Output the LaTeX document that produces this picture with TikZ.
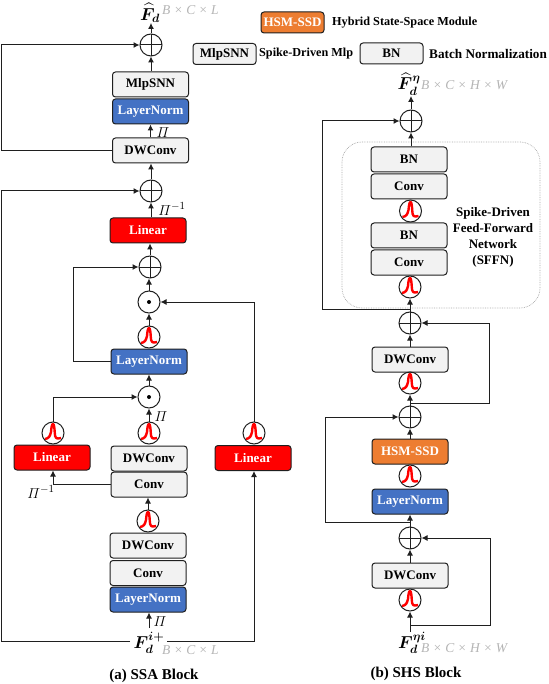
\documentclass[tikz,border=0pt]{standalone}
\usepackage{fontspec}
\usepackage{amsmath}
\usepackage{bm}
\setmainfont{Liberation Serif}
\usetikzlibrary{arrows.meta}
\definecolor{ink}{HTML}{1F1F1F}
\definecolor{boxgray}{HTML}{F2F2F2}
\definecolor{normblue}{HTML}{4472C4}
\definecolor{hsmorange}{HTML}{ED7D31}
\definecolor{dimgray}{HTML}{B4B4B4}
\definecolor{dashgray}{HTML}{A6A6A6}
\tikzset{
  blk/.style      = {draw=ink, line width=1pt, rounded corners=3pt, minimum width=76pt, minimum height=25pt, inner sep=0pt,
                     font=\fontsize{13}{15}\selectfont\bfseries},
  grayblk/.style  = {blk, fill=boxgray, text=black},
  normblk/.style  = {blk, fill=normblue, text=white},
  linblk/.style   = {blk, fill=red, text=white},
  hsmblk/.style   = {blk, fill=hsmorange, text=white},
  legblk/.style   = {minimum width=63pt, minimum height=21pt},
  plusop/.style   = {circle, draw=ink, line width=1pt, minimum size=22pt, inner sep=0pt,
                     path picture={\draw[ink, line width=1pt] (path picture bounding box.north) -- (path picture bounding box.south)
                       (path picture bounding box.west) -- (path picture bounding box.east);}},
  dotop/.style    = {circle, draw=ink, line width=1pt, minimum size=22pt, inner sep=0pt,
                     path picture={\fill[black] (path picture bounding box.center) circle (2pt);}},
  spikeop/.style  = {circle, draw=ink, line width=1pt, minimum size=22pt, inner sep=0pt,
                     path picture={\draw[red, line width=2.4pt, line join=round, shift={(path picture bounding box.center)}]
                       (-8,6) .. controls (-4,5.5) and (-3,3) .. (-2,-1) .. controls (-1.6,-6) and (-1,-9) .. (0,-9)
                       .. controls (1,-9) and (1.4,-6) .. (1.8,0) .. controls (2,5) and (3,6.5) .. (8,5);}},
  flow/.style     = {-{Latex[length=6pt,width=6pt]}, draw=ink, line width=1pt},
  feed/.style     = {draw=ink, line width=1pt},
  dimlab/.style   = {font=\fontsize{13.5}{15}\selectfont\itshape\color{dimgray}, inner sep=0pt, anchor=west},
  sym/.style      = {font=\fontsize{15}{17}\selectfont, inner sep=0pt},
  feat/.style     = {font=\fontsize{16.5}{19}\selectfont, inner sep=0pt},
  leglab/.style   = {font=\fontsize{12.2}{14}\selectfont\bfseries, inner sep=0pt, anchor=west},
  caption/.style  = {font=\fontsize{15}{17}\selectfont\bfseries, inner sep=0pt},
}
\begin{document}
\begin{tikzpicture}[x=1pt,y=-1pt]
\path[use as bounding box] (0,0) rectangle (548,684);

% ---- the legend ----------------------------------------------------------
\node[hsmblk, legblk] (leghsm) at (292.5,22.5) {HSM-SSD};
\node[leglab] (leghsmtxt) at (332,23) {Hybrid State-Space Module};
\node[grayblk, legblk] (legmlp) at (224.5,54) {MlpSNN};
\node[leglab] (legmlptxt) at (259,54) {Spike-Driven Mlp};
\node[grayblk, legblk] (legbn) at (391.5,53.5) {BN};
\node[leglab, font=\fontsize{13.2}{15}\selectfont\bfseries] (legbntxt) at (429,53.5) {Batch Normalization};

% ---- the SSA block -------------------------------------------------------
\node[feat] (outa) at (150,13) {$\widehat{\bm{F}}_{\bm{d}}$};
\node[dimlab] (outadim) at (162,10) {B × C × L};
\node[plusop] (plusa) at (151,45) {};
\node[grayblk] (mlpa) at (150.5,84.5) {MlpSNN};
\node[normblk] (norma) at (150.5,111.5) {LayerNorm};
\node[grayblk] (dwa) at (150.5,150.5) {DWConv};
\node[plusop] (plusb) at (151,191) {};
\node[linblk] (lina) at (148,230.5) {Linear};
\node[plusop] (plusc) at (150,267) {};
\node[dotop] (dota) at (149,302) {};
\node[spikeop] (spka) at (149,337) {};
\node[normblk] (normb) at (149,361.5) {LayerNorm};
\node[dotop] (dotb) at (149,397) {};
\node[spikeop] (spkb) at (149,433) {};
\node[grayblk] (dwb) at (149,458.5) {DWConv};
\node[grayblk] (cva) at (149,484.5) {Conv};
\node[spikeop] (spkc) at (148,521) {};
\node[grayblk] (dwc) at (148,545.5) {DWConv};
\node[grayblk] (cvb) at (148,573) {Conv};
\node[normblk] (normc) at (148,599.5) {LayerNorm};
\node[feat] (ina) at (149,643) {$\bm{F}_{\bm{d}}^{\bm{i+}}$};
\node[dimlab] (inadim) at (162,650) {B × C × L};
\node[linblk] (linb) at (52,457.5) {Linear};
\node[spikeop] (spkd) at (53,433) {};
\node[linblk] (linc) at (253,458) {Linear};
\node[spikeop] (spke) at (254,433) {};
\node[sym] (pia) at (163,133) {$\varPi$};
\node[sym] (pib) at (172,209) {$\varPi^{-1}$};
\node[sym] (pic) at (161,417) {$\varPi$};
\node[sym] (pid) at (41,492) {$\varPi^{-1}$};
\node[sym] (pie) at (160,622) {$\varPi$};
\node[caption] (capa) at (154,676) {(a) SSA Block};

\coordinate (railtop) at (1,100);
\coordinate (railbot) at (1,400);
\coordinate (railmid) at (73,320);
\coordinate (inaleft) at (130,641);
\coordinate (inaright) at (167,641);
\coordinate (inastem) at (149,628);

\draw[flow] (plusa.north) -- (plusa.north |- outa.south);
\draw[flow] (mlpa.north -| plusa) -- (plusa.south);
\draw[flow] (dwa.north) -- (norma.south);
\draw[flow] (plusb.north) -- (dwa.south -| plusb);
\draw[flow] (lina.north -| plusb) -- (plusb.south);
\draw[flow] (plusc.north) -- (plusc.north |- lina.south);
\draw[flow] (dota.north) -- (plusc.south -| dota);
\draw[flow] (spka.north) -- (dota.south);
\draw[flow] (dotb.north) -- (normb.south);
\draw[flow] (spkb.north) -- (dotb.south);
\draw[flow] (spkc.north) -- (cva.south -| spkc);
\draw[flow] (inastem) -- (normc.south -| inastem);

\draw[feed] (dwa.west) -| (railtop);
\draw[flow] (railtop) |- (plusa.west);
\draw[feed] (inaleft) -| (railbot);
\draw[flow] (railbot) |- (plusb.west);
\draw[feed] (normb.west) -| (railmid);
\draw[flow] (railmid) |- (plusc.west);
\draw[flow] (spkd.north) |- (dotb.west);
\draw[flow] (spke.north) |- (dota.east);
\draw[flow] (cva.west) -| (linb.south -| spkd);
\draw[flow] (inaright) -| (linc.south -| spke);

% ---- the SHS block -------------------------------------------------------
\draw[dashgray, densely dotted, line width=0.7pt, rounded corners=20pt] (342,142) rectangle (540,308);

\node[feat] (outb) at (409,84) {$\widehat{\bm{F}}_{\bm{d}}^{\bm{\eta}}$};
\node[dimlab] (outbdim) at (421,85) {B × C × H × W};
\node[plusop] (plusd) at (411,121) {};
\node[grayblk] (bna) at (409,159.5) {BN};
\node[grayblk] (cvc) at (409,186.5) {Conv};
\node[spikeop] (spkf) at (410.5,211) {};
\node[grayblk] (bnb) at (409,235.5) {BN};
\node[grayblk] (cvd) at (409,262.5) {Conv};
\node[spikeop] (spkg) at (410,287) {};
\node[plusop] (pluse) at (410,323) {};
\node[grayblk] (dwd) at (410,359.5) {DWConv};
\node[spikeop] (spkh) at (410,383) {};
\node[plusop] (plusf) at (410,417) {};
\node[hsmblk] (hsm) at (410,451.5) {HSM-SSD};
\node[spikeop] (spki) at (410,476) {};
\node[normblk] (normd) at (410,501.5) {LayerNorm};
\node[plusop] (plusg) at (410,538) {};
\node[grayblk] (dwe) at (410,575.5) {DWConv};
\node[spikeop] (spkj) at (410,600) {};
\node[feat] (inb) at (412,643) {$\bm{F}_{\bm{d}}^{\bm{\eta i}}$};
\node[dimlab] (inbdim) at (421,648) {B × C × H × W};
\node[font=\fontsize{13}{16}\selectfont\bfseries, align=center, inner sep=0pt] (sffn) at (493,237)
  {Spike-Driven\\Feed-Forward\\Network\\(SFFN)};
\node[caption] (capb) at (416,674) {(b) SHS Block};

\coordinate (tapa) at (410,309);
\coordinate (tapb) at (410,403);
\coordinate (tapc) at (410,522);
\coordinate (tapd) at (410,625);
\coordinate (leftup) at (322,200);
\coordinate (rightup) at (489,360);
\coordinate (lefttwo) at (325,470);
\coordinate (righttwo) at (490,580);
\coordinate (inbstem) at (410,632);
\coordinate (outbtip) at (411,96);

\draw[flow] (plusd.north) -- (outbtip);
\draw[flow] (plusd.south |- bna.north) -- (plusd.south);
\draw[flow] (pluse.north) -- (spkg.south);
\draw[flow] (dwd.north) -- (pluse.south);
\draw[flow] (plusf.north) -- (spkh.south);
\draw[flow] (hsm.north) -- (plusf.south);
\draw[flow] (plusg.north) -- (normd.south);
\draw[flow] (dwe.north) -- (plusg.south);
\draw[flow] (inbstem) -- (spkj.south);

\draw[feed] (tapa) -| (leftup);
\draw[flow] (leftup) |- (plusd.west);
\draw[feed] (tapb) -| (rightup);
\draw[flow] (rightup) |- (pluse.east);
\draw[feed] (tapc) -| (lefttwo);
\draw[flow] (lefttwo) |- (plusf.west);
\draw[feed] (tapd) -| (righttwo);
\draw[flow] (righttwo) |- (plusg.east);
\end{tikzpicture}
\end{document}
